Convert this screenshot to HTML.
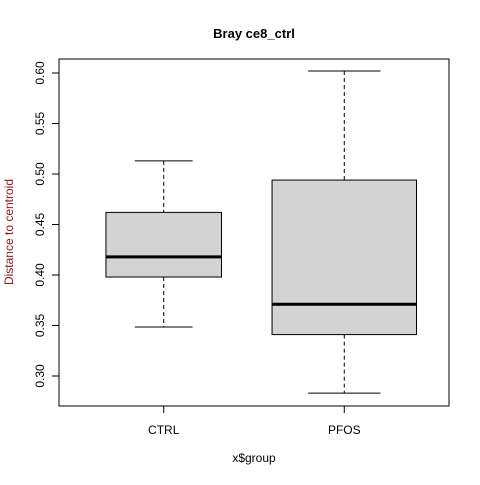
<!DOCTYPE html>
<html><head><meta charset="utf-8"><style>
body{margin:0;background:#fff;}
svg text{font-family:"Liberation Sans",Arial,sans-serif;}
</style></head><body>
<svg id="chart" width="480" height="480">
<rect x="0" y="0" width="480" height="480" fill="#fff"/>
<text x="254" y="38" text-anchor="middle" font-size="13" font-weight="bold">Bray ce8_ctrl</text>
<text x="254" y="462" text-anchor="middle" font-size="12">x$group</text>
<text transform="translate(13,232) rotate(-90)" text-anchor="middle" font-size="12" fill="#8b1a1a">Distance to centroid</text>
<g id="marks"></g>
<rect x="59" y="59" width="390" height="347" fill="none" stroke="#000"/>
</svg>
<script>
const categories = ["CTRL", "PFOS"];
const lowerWhisker = [0.3485, 0.283];
const q1 = [0.398, 0.341];
const medians = [0.418, 0.371];
const q3 = [0.462, 0.494];
const upperWhisker = [0.513, 0.602];
const relWidths = [0.64, 0.8];
const yTicks = [0.30, 0.35, 0.40, 0.45, 0.50, 0.55, 0.60];

const NS = "http://www.w3.org/2000/svg";
const g = document.getElementById("marks");
const svg = document.getElementById("chart");
function yS(v){ return 376 - (v - 0.30) / 0.30 * 303; }
function xS(i){ return 59 + (i + 1 - 0.42) / 2.16 * 390; }
const pxPerUnit = 390 / 2.16;
function mk(tag, attrs, parent){
  const e = document.createElementNS(NS, tag);
  for (const k in attrs) e.setAttribute(k, attrs[k]);
  (parent || g).appendChild(e);
  return e;
}
// y axis
const yAxis = mk("g", {});


mk("line", {x1: 59, x2: 59, y1: yS(yTicks[0]), y2: yS(yTicks[yTicks.length-1]), stroke: "#000"}, yAxis);
yTicks.forEach(t => {
  const y = yS(t);
  mk("line", {x1: 52, x2: 59, y1: y, y2: y, stroke: "#000"}, yAxis);
  const tx = mk("text", {transform: `translate(44,${y}) rotate(-90)`, "text-anchor": "middle", "font-size": 12}, yAxis);
  tx.textContent = t.toFixed(2);
  
  
});
// x axis
const xAxis = mk("g", {});


mk("line", {x1: xS(0), x2: xS(categories.length-1), y1: 406, y2: 406, stroke: "#000"}, xAxis);
categories.forEach((c, i) => {
  const x = xS(i);
  mk("line", {x1: x, x2: x, y1: 406, y2: 413, stroke: "#000"}, xAxis);
  const tx = mk("text", {x: x, y: 434, "text-anchor": "middle", "font-size": 12}, xAxis);
  tx.textContent = c;
  
  
});
// boxes
categories.forEach((c, i) => {
  const cx = xS(i), hw = relWidths[i] * pxPerUnit / 2;
  const bg = mk("g", {});
  
  
  mk("line", {x1: cx, x2: cx, y1: yS(upperWhisker[i]), y2: yS(q3[i]), stroke: "#000", "stroke-dasharray": "4,3"}, bg);
  mk("line", {x1: cx, x2: cx, y1: yS(q1[i]), y2: yS(lowerWhisker[i]), stroke: "#000", "stroke-dasharray": "4,3"}, bg);
  mk("line", {x1: cx - hw/2, x2: cx + hw/2, y1: yS(upperWhisker[i]), y2: yS(upperWhisker[i]), stroke: "#000"}, bg);
  mk("line", {x1: cx - hw/2, x2: cx + hw/2, y1: yS(lowerWhisker[i]), y2: yS(lowerWhisker[i]), stroke: "#000"}, bg);
  mk("rect", {x: cx - hw, y: yS(q3[i]), width: 2*hw, height: yS(q1[i]) - yS(q3[i]), fill: "#d3d3d3", stroke: "#000"}, bg);
  mk("line", {x1: cx - hw, x2: cx + hw, y1: yS(medians[i]), y2: yS(medians[i]), stroke: "#000", "stroke-width": 3}, bg);
});
</script>
</body></html>
